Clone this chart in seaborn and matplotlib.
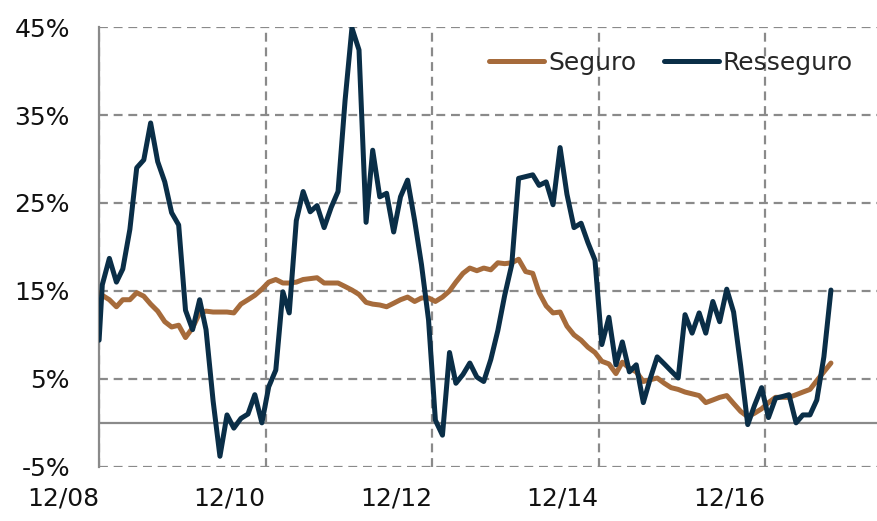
import pandas as pd
import matplotlib
matplotlib.use('Agg')
import matplotlib.pyplot as plt
import seaborn as sns

# monthly values (mid-month), first entry is the start of 12/08
seguro = [14.8,
          14.5, 14.0, 13.2, 14.0, 14.0, 14.8, 14.4, 13.5, 12.7, 11.5,
          10.9, 11.1, 9.7, 10.8, 12.5, 12.7, 12.6, 12.6, 12.6, 12.5,
          13.5, 14.0, 14.5, 15.2, 16.0, 16.3, 15.9, 15.9, 16.0, 16.3,
          16.4, 16.5, 15.9, 15.9, 15.9, 15.5, 15.1, 14.6, 13.7, 13.5,
          13.4, 13.2, 13.6, 14.0, 14.3, 13.8, 14.2, 14.2, 13.8, 14.3,
          15.0, 16.0, 17.0, 17.6, 17.3, 17.6, 17.4, 18.2, 18.1, 18.2,
          18.6, 17.2, 17.0, 14.8, 13.3, 12.5, 12.6, 11.0, 10.0, 9.4,
          8.6, 8.0, 7.0, 6.7, 5.6, 6.9, 6.2, 5.8, 4.7, 4.9,
          5.1, 4.5, 4.0, 3.8, 3.5, 3.3, 3.1, 2.3, 2.6, 2.9,
          3.1, 2.2, 1.3, 0.7, 1.1, 1.6, 2.3, 2.9, 2.9, 2.9,
          3.2, 3.5, 3.8, 4.8, 5.8, 6.8]

resseguro = [9.4,
             15.7, 18.7, 16.0, 17.5, 22.0, 29.0, 29.9, 34.1, 29.7, 27.4,
             23.9, 22.5, 12.8, 10.6, 14.0, 10.6, 2.5, -3.8, 0.9, -0.6,
             0.5, 1.0, 3.2, 0.0, 4.1, 6.0, 14.9, 12.5, 23.0, 26.3,
             24.0, 24.7, 22.2, 24.5, 26.3, 36.7, 44.9, 42.4, 22.8, 31.0,
             25.7, 26.1, 21.7, 25.7, 27.6, 23.0, 18.0, 11.7, 0.3, -1.4,
             8.0, 4.5, 5.5, 6.8, 5.2, 4.7, 7.2, 10.5, 14.5, 18.0,
             27.8, 28.0, 28.2, 27.0, 27.4, 24.8, 31.3, 26.0, 22.2, 22.7,
             20.5, 18.5, 8.9, 12.0, 6.6, 9.2, 5.8, 6.6, 2.3, 5.0,
             7.5, 6.7, 5.9, 5.1, 12.3, 10.2, 12.5, 10.2, 13.8, 11.5,
             15.2, 12.6, 6.5, -0.2, 2.0, 4.0, 0.6, 2.8, 3.0, 3.2,
             0.0, 0.9, 0.9, 2.6, 7.5, 15.1]

dates = [pd.Timestamp('2008-12-01')] + list(
    pd.date_range('2008-12-01', periods=len(seguro) - 1, freq='MS') + pd.Timedelta(days=14))

tick_dates = pd.to_datetime(['2008-12-01', '2010-12-01', '2012-12-01', '2014-12-01', '2016-12-01'])
tick_labels = ['12/08', '12/10', '12/12', '12/14', '12/16']
y_ticks = [-5, 5, 15, 25, 35, 45]

df = pd.DataFrame({'data': dates * 2,
                   'valor': seguro + resseguro,
                   'serie': ['Seguro'] * len(seguro) + ['Resseguro'] * len(resseguro)})

sns.set_style('white')
plt.rcParams['font.family'] = ['DejaVu Sans']

fig = plt.figure(figsize=(8.77, 5.21), dpi=100)
ax = fig.add_axes([0.113, 0.104, 0.887, 0.844])

grid_color = '#8a8a8a'
ax.axhline(0, color=grid_color, lw=1.6, zorder=1)

sns.lineplot(data=df, x='data', y='valor', hue='serie',
             palette={'Seguro': '#A66B3B', 'Resseguro': '#0A2E47'},
             linewidth=3.6, ax=ax, zorder=3)

ax.set_ylim(-5, 45)
ax.set_xlim(pd.Timestamp('2008-12-01'), pd.Timestamp('2018-04-05'))
ax.set_yticks(y_ticks)
ax.set_yticklabels([f'{v}%' for v in y_ticks], fontsize=18, color='#111111')
ax.set_xticks(tick_dates)
ax.set_xticklabels(tick_labels, fontsize=18, color='#111111', ha='right')
ax.set_xlabel('')
ax.set_ylabel('')

ax.grid(True, color=grid_color, linestyle=(0, (4, 2.6)), linewidth=1.6, zorder=0)
ax.tick_params(axis='y', length=7, width=1.6, color=grid_color, pad=14)
ax.tick_params(axis='x', length=0, pad=14)

for side in ['top', 'right', 'bottom']:
    ax.spines[side].set_visible(False)
ax.spines['left'].set_color(grid_color)
ax.spines['left'].set_linewidth(1.6)
ax.spines['left'].set_zorder(2)

handles, labels = ax.get_legend_handles_labels()
ax.legend(handles, labels, loc='upper right', bbox_to_anchor=(0.998, 0.945),
          bbox_transform=fig.transFigure, ncol=2, frameon=False, fontsize=18,
          handlelength=2.2, handletextpad=0.15, columnspacing=1.1)

fig.savefig('out.png', dpi=100)
